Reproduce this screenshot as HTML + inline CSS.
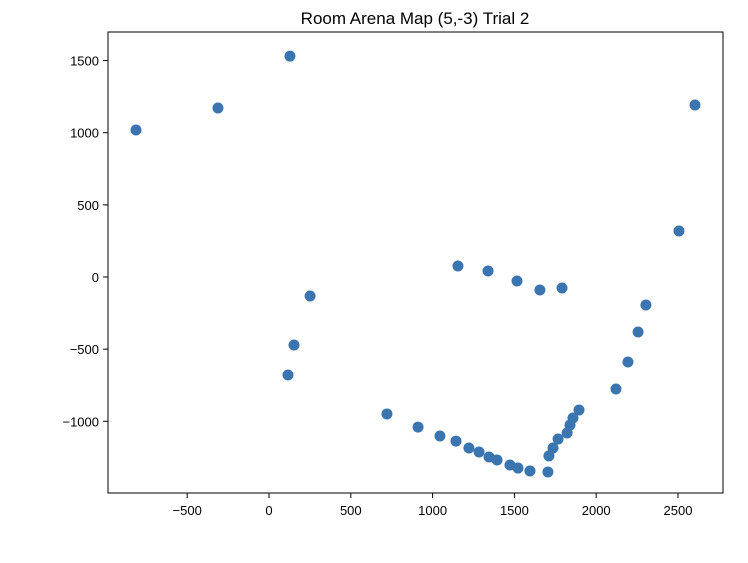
<!DOCTYPE html>
<html><head><meta charset="utf-8"><style>body{margin:0;background:#fff}svg{font-family:"Liberation Sans","DejaVu Sans",sans-serif}</style></head>
<body>
<svg id="chart" width="748" height="558">
<rect width="748" height="558" fill="#fff"/>
<text x="415" y="24" font-size="17" text-anchor="middle">Room Arena Map (5,-3) Trial 2</text>
<rect x="108" y="32" width="615" height="461" fill="none" stroke="#000" stroke-width="1"/>
<g id="xt"></g>
<g id="yt"></g>
<g id="pts"></g>
</svg>
<script>
const xs=[-813,-312,128,2604,2506,1155,1339,1516,1656,1791,251,153,116,2304,2256,2194,2121,721,911,1045,1143,1222,1284,1345,1394,1473,1522,1595,1705,1711,1736,1767,1822,1840,1858,1895];
const ys=[1019,1171,1531,1192,319,76,42,-28,-90,-76,-132,-471,-679,-194,-381,-589,-776,-949,-1040,-1102,-1137,-1185,-1213,-1247,-1268,-1303,-1324,-1344,-1351,-1240,-1185,-1123,-1081,-1026,-977,-922];
const xTicks=[-500,0,500,1000,1500,2000,2500];
const yTicks=[-1000,-500,0,500,1000,1500];
const ns="http://www.w3.org/2000/svg";
const X=v=>269+v*0.1636, Y=v=>277-v*0.1443;
function mk(t,a,p){const e=document.createElementNS(ns,t);for(const k in a)e.setAttribute(k,a[k]);p.appendChild(e);return e;}
const xt=document.getElementById('xt'),yt=document.getElementById('yt'),pts=document.getElementById('pts');
xTicks.forEach(v=>{const x=X(v);
 const l=mk('line',{x1:x,x2:x,y1:493,y2:498,stroke:'#000'},xt);
 
 
 const t=mk('text',{x:x,y:515,'font-size':13,'text-anchor':'middle'},xt);t.textContent=v===0?'0':String(v).replace('-','−');
 
 });
yTicks.forEach(v=>{const y=Y(v);
 const l=mk('line',{x1:103,x2:108,y1:y,y2:y,stroke:'#000'},yt);
 
 
 const t=mk('text',{x:99,y:y+5,'font-size':13,'text-anchor':'end'},yt);t.textContent=v===0?'0':String(v).replace('-','−');
 
 });
xs.forEach((v,i)=>{const c=mk('circle',{cx:X(v),cy:Y(ys[i]),r:5.5,fill:'#3a75b0'},pts);
 
 });
</script>
</body></html>
